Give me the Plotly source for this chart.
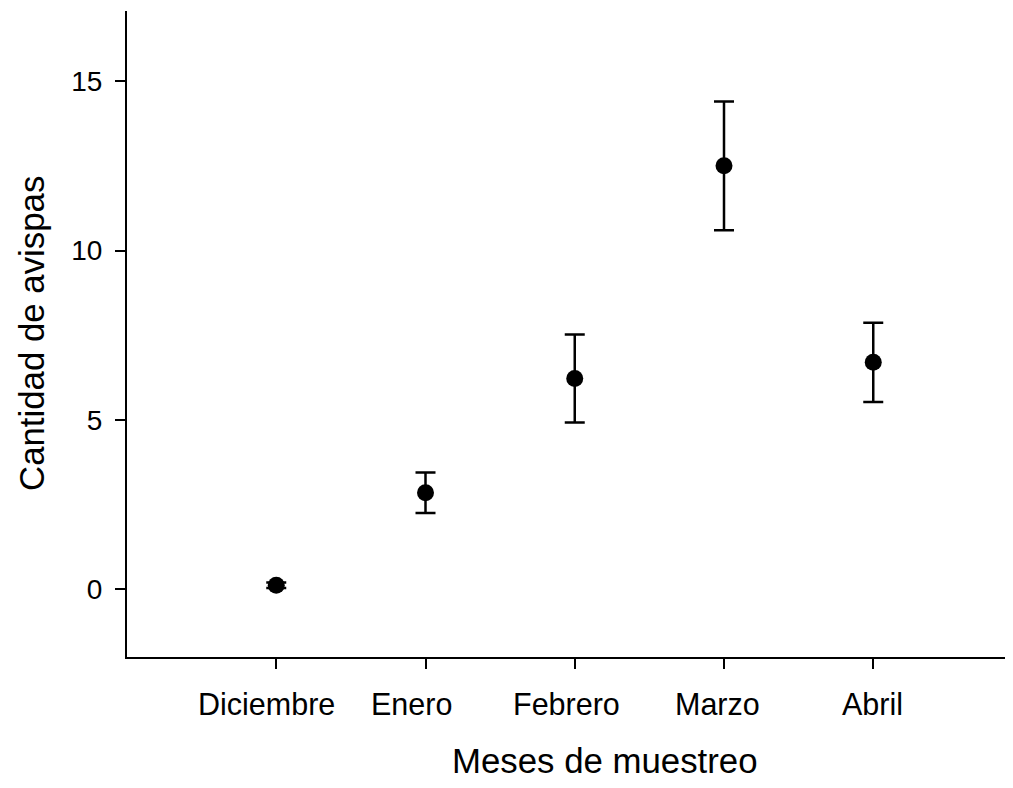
import plotly.graph_objects as go

months = ["Diciembre", "Enero", "Febrero", "Marzo", "Abril"]
means = [0.12, 2.85, 6.22, 12.5, 6.7]
errors = [0.08, 0.6, 1.3, 1.9, 1.17]
y_ticks = [0, 5, 10, 15]
label_xshift = [-9.5, -14, -8.5, -6.5, -0.5]

x_pos = list(range(len(months)))
FONT = "Liberation Sans, Arial, sans-serif"

OFF = 8  # default page body margin
W, H = 1013 - 2 * OFF, 788 - 2 * OFF
L, T = 127 - OFF, 11 - OFF
R = 0
B = H - (657 - OFF)
pw, ph = W - L - R, H - T - B

fig = go.Figure()
fig.add_trace(go.Scatter(
    x=x_pos, y=means, mode="markers",
    marker=dict(color="black", size=17, symbol="circle"),
    error_y=dict(type="data", array=errors, visible=True, color="black",
                 thickness=2.5, width=10),
    showlegend=False,
))

fig.update_layout(
    width=W, height=H,
    margin=dict(l=L, r=R, t=T, b=B),
    paper_bgcolor="white", plot_bgcolor="white",
    font=dict(family=FONT, color="black"),
    xaxis=dict(
        range=[-1, -1 + pw / 149.25], tickvals=x_pos, ticktext=[""] * len(months),
        showgrid=False, zeroline=False, showline=True, linecolor="black",
        linewidth=2, ticks="outside", ticklen=10, tickwidth=2, tickcolor="black",
    ),
    yaxis=dict(
        range=[-2, 17.07], tickvals=y_ticks, ticktext=[str(v) for v in y_ticks],
        showgrid=False, zeroline=False, showline=True, linecolor="black",
        linewidth=2, ticks="outside", ticklen=10, tickwidth=2, tickcolor="black",
        tickfont=dict(size=28, family=FONT, color="black"),
        ticklabelstandoff=7,
    ),
)

plot_bottom = T + ph
for xp, m, dx in zip(x_pos, months, label_xshift):
    fig.add_annotation(
        x=xp, xref="x", y=-(676.5 - plot_bottom) / ph, yref="paper",
        text=m, showarrow=False, xanchor="center", yanchor="top",
        xshift=dx, font=dict(size=30.5, family=FONT, color="black"),
    )

fig.add_annotation(
    x=(605 - OFF - L) / pw, xref="paper", y=-(752 - plot_bottom) / ph, yref="paper",
    text="Meses de muestreo", showarrow=False, xanchor="center", yanchor="middle",
    font=dict(size=34.8, family=FONT, color="black"),
)
fig.add_annotation(
    x=(31 - OFF - L) / pw, xref="paper", y=0.5, yref="paper",
    text="Cantidad de avispas", showarrow=False, textangle=-90,
    xanchor="center", yanchor="middle",
    font=dict(size=34.8, family=FONT, color="black"),
)

fig.write_html("out.html")
